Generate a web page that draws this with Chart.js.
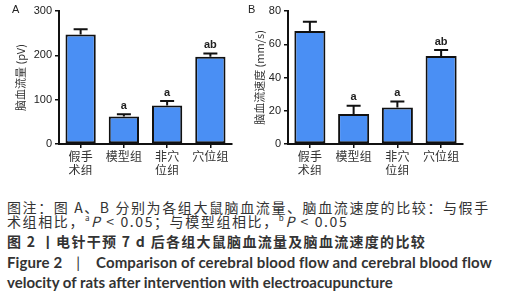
<!DOCTYPE html>
<html>
<head>
<meta charset="utf-8">
<script src="https://cdn.jsdelivr.net/npm/chart.js@4"></script>
<style>
  body { margin: 0; background: #fff; width: 505px; height: 300px; position: relative; overflow: hidden; }
  .panel { position: absolute; top: 0; height: 175px; }
  .lbl { position: absolute; font: 11px "Liberation Sans", Arial, sans-serif; color: #222; }
  .cap { position: absolute; left: 7px; white-space: nowrap; color: #333; font-family: "Noto Sans CJK SC", sans-serif; }
  .en { font-family: Lato, "Open Sans", sans-serif; font-weight: 700; font-size: 15px; letter-spacing: 0.1px; }
</style>
</head>
<body>
<div class="panel" style="left:0;width:250px"><canvas id="chartA" width="250" height="175"></canvas></div>
<div class="panel" style="left:250px;width:255px"><canvas id="chartB" width="255" height="175"></canvas></div>
<div class="lbl" style="left:12px;top:3px">A</div>
<div class="lbl" style="left:248px;top:3px">B</div>

<div class="cap" style="top:197px;font-size:14px;letter-spacing:1.6px">图注：图 A、B 分别为各组大鼠脑血流量、脑血流速度的比较：与假手</div>
<div class="cap" style="top:211px;font-size:14px;letter-spacing:1.6px">术组相比，<sup style="font-size:8px">a</sup><i>P</i> &lt; 0.05；与模型组相比，<sup style="font-size:8px">b</sup><i>P</i> &lt; 0.05</div>
<div class="cap" style="top:231px;font-size:14px;font-weight:700;letter-spacing:1.3px">图 2 丨电针干预 7 d 后各组大鼠脑血流量及脑血流速度的比较</div>
<div class="cap en" style="top:253px">Figure 2<span style="margin:0 14px 0 14px;font-weight:400">|</span><span style="margin-left:2px">Comparison of cerebral blood flow and cerebral blood flow</span></div>
<div class="cap en" style="top:273px;letter-spacing:0">velocity of rats after intervention with electroacupuncture</div>

<script>
const categories = [['假手', '术组'], '模型组', ['非穴', '位组'], '穴位组'];
const flowMean = [247, 62, 87, 197];
const flowErr = [12, 5, 10, 7];
const flowSig = ['', 'a', 'a', 'ab'];
const flowTicks = [0, 100, 200, 300];
const velMean = [68, 18, 22, 53];
const velErr = [5.5, 5, 3.5, 3.5];
const velSig = ['', 'a', 'a', 'ab'];
const velTicks = [0, 20, 40, 60, 80];

// error bars (upper only) and significance letters
const errPlugin = {
    id: 'errPlugin',
    afterDatasetsDraw(chart, args, opts) {
        const ctx = chart.ctx;
        const meta = chart.getDatasetMeta(0);
        const y = chart.scales.y;
        ctx.save();
        ctx.strokeStyle = '#111';
        ctx.lineWidth = 2;
        meta.data.forEach((bar, i) => {
            const top = y.getPixelForValue(opts.mean[i] + opts.err[i]);
            const x = bar.x;
            ctx.beginPath();
            ctx.moveTo(x, bar.y);
            ctx.lineTo(x, top);
            ctx.moveTo(x - 7, top);
            ctx.lineTo(x + 7, top);
            ctx.stroke();
            if (opts.sig[i]) {
                ctx.fillStyle = '#222';
                ctx.font = 'bold 11px "Liberation Sans", Arial, sans-serif';
                ctx.textAlign = 'center';
                ctx.textBaseline = 'bottom';
                ctx.fillText(opts.sig[i], x, top - 3);
            }
        });
        ctx.restore();
    }
};

function makeChart(id, mean, err, sig, ticks, title, leftPad, yWidth, rightPad, barPct) {
    return new Chart(document.getElementById(id).getContext('2d'), {
        type: 'bar',
        data: {
            labels: categories,
            datasets: [{
                data: mean,
                backgroundColor: '#4a8ff4',
                borderColor: '#111',
                borderWidth: 2,
                borderSkipped: false,
                barPercentage: barPct,
                categoryPercentage: 1
            }]
        },
        options: {
            responsive: false,
            animation: false,
            layout: { padding: { top: 11, right: rightPad, left: leftPad, bottom: 0 } },
            plugins: {
                legend: { display: false },
                tooltip: { enabled: false },
                errPlugin: { mean: mean, err: err, sig: sig }
            },
            scales: {
                x: {
                    grid: { display: true, drawOnChartArea: false, offset: false, tickLength: 4, color: '#111', lineWidth: 1.5 },
                    border: { color: '#111', width: 2 },
                    ticks: { color: '#333', font: { family: '"Noto Sans CJK SC", serif', size: 12 }, padding: 1, maxRotation: 0 },
                    afterFit: s => { s.height = 31; }
                },
                y: {
                    min: 0,
                    max: ticks[ticks.length - 1],
                    afterBuildTicks: s => { s.ticks = ticks.map(v => ({ value: v })); },
                    grid: { display: true, drawOnChartArea: false, tickLength: 4, color: '#111', lineWidth: 1.5 },
                    border: { color: '#111', width: 2 },
                    ticks: { color: '#222', font: { family: '"Liberation Sans", Arial, sans-serif', size: 11 }, padding: 3 },
                    title: { display: true, text: title, color: '#333', font: { family: '"Noto Sans CJK SC", sans-serif', size: 11 }, padding: 2 },
                    afterFit: s => { s.width = yWidth; }
                }
            }
        },
        plugins: [errPlugin]
    });
}

makeChart('chartA', flowMean, flowErr, flowSig, flowTicks, '脑血流量 (pV)', 12, 47, 18, 0.7);
makeChart('chartB', velMean, velErr, velSig, velTicks, '脑血流速度 (mm/s)', 1, 37, 42, 0.71);
</script>
</body>
</html>
